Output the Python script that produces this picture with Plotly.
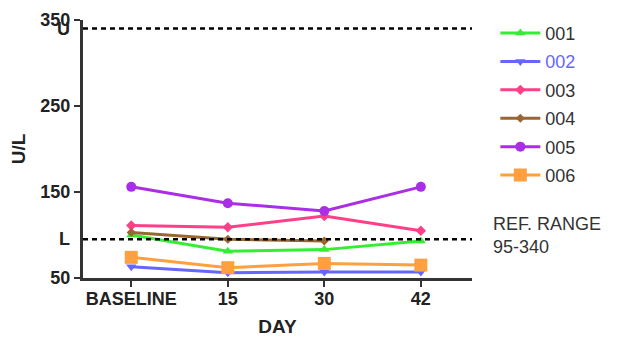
import plotly.graph_objects as go

days = ["BASELINE", "15", "30", "42"]

s001 = [100, 81, 83, 93]
s002 = [63, 56, 57, 57]
s003 = [111, 109, 122, 105]
s004 = [103, 95, 93, None]
s005 = [156, 137, 128, 156]
s006 = [74, 62, 67, 65]

upper_limit = 340
lower_limit = 95
y_ticks = [50, 150, 250, 350]

series = [
    ("001", s001, "#33ee33", "triangle-up", 9),
    ("002", s002, "#6666ff", "triangle-down", 9),
    ("003", s003, "#ff3f88", "diamond", 8),
    ("004", s004, "#996633", "diamond", 7),
    ("005", s005, "#aa2ee8", "circle", 10),
    ("006", s006, "#ffa040", "square", 13),
]

FONT = "Liberation Sans, Arial, sans-serif"

fig = go.Figure()
for name, vals, color, sym, size in series:
    label = name if name != "002" else f'<span style="color:{color}">{name}</span>'
    fig.add_trace(go.Scatter(
        x=list(range(len(days))), y=vals, name=label, mode="lines+markers",
        line=dict(color=color, width=3),
        marker=dict(symbol=sym, size=size, color=color),
        legendgroup=name, connectgaps=False,
    ))

# reference range lines
for v in (upper_limit, lower_limit):
    fig.add_shape(type="line", xref="x", yref="y", x0=-0.5, x1=3.53, y0=v, y1=v,
                  line=dict(color="black", width=2.5, dash="5px,4px"), layer="above")

for v, t in ((upper_limit, "U"), (lower_limit, "L")):
    fig.add_annotation(x=0, xref="paper", xanchor="right", xshift=-11, y=v, yref="y",
                       text=f"<b>{t}</b>", showarrow=False,
                       font=dict(family=FONT, size=18, color="#222"))

fig.add_annotation(x=1.05, xref="paper", xanchor="left", y=99, yref="y", yanchor="middle",
                   text="REF. RANGE<br>95-340", align="left", showarrow=False,
                   font=dict(family=FONT, size=18, color="#333"))

fig.update_layout(
    width=618, height=337,
    margin=dict(l=83, r=146, t=20, b=59, autoexpand=False),
    paper_bgcolor="white", plot_bgcolor="white",
    font=dict(family=FONT, color="#222"),
    showlegend=True,
    legend=dict(x=1.06, xanchor="left", y=1.02, yanchor="top", maxheight=400,
                font=dict(family=FONT, size=18, color="#333"),
                tracegroupgap=2, itemwidth=40, bgcolor="rgba(0,0,0,0)"),
    xaxis=dict(
        range=[-0.5, 3.53], tickvals=list(range(len(days))), ticktext=days,
        showgrid=False, zeroline=False, showline=True, linecolor="#333", linewidth=3,
        ticks="outside", ticklen=6, tickwidth=2, tickcolor="#333", automargin=False,
        ticklabelstandoff=-4,
        tickfont=dict(family=FONT, size=18, color="#222", weight="bold"),
        title=dict(text="<b>DAY</b>", font=dict(family=FONT, size=19, color="#222"), standoff=18),
    ),
    yaxis=dict(
        range=[50, 350], tickvals=y_ticks, ticktext=[str(t) for t in y_ticks],
        showgrid=False, zeroline=False, showline=True, linecolor="#333", linewidth=3,
        ticks="outside", ticklen=6, tickwidth=2, tickcolor="#333", automargin=False,
        tickfont=dict(family=FONT, size=18, color="#222", weight="bold"),
        title=dict(text="<b>U/L</b>", font=dict(family=FONT, size=19, color="#222"), standoff=10),
    ),
)

fig.write_html("out.html")
